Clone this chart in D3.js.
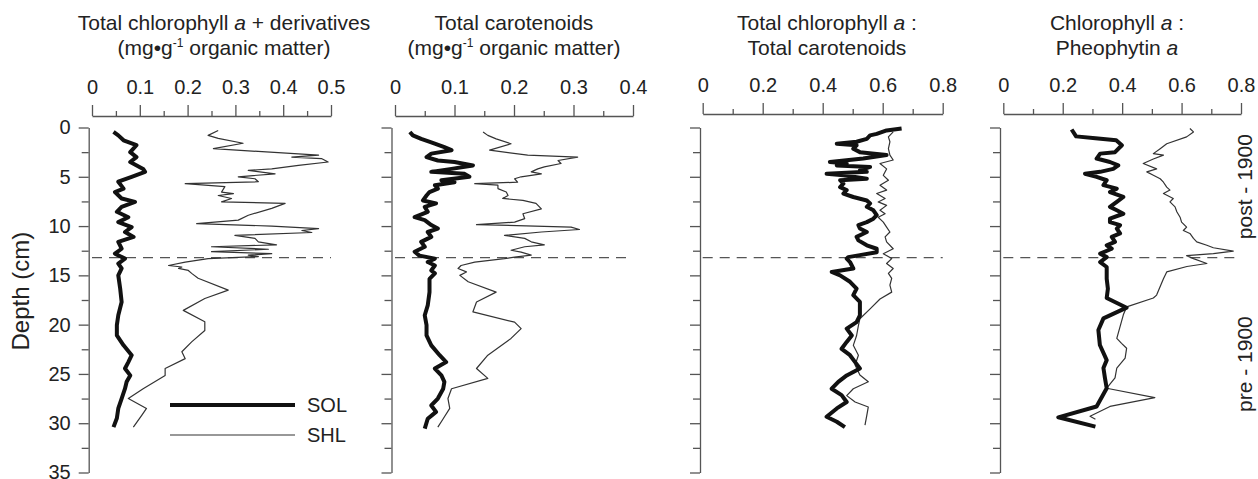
<!DOCTYPE html>
<html>
<head>
<meta charset="utf-8">
<script src="https://cdn.jsdelivr.net/npm/d3@7"></script>
<style>
  body { margin: 0; background: #fff; }
  svg { display: block; font-family: "Liberation Sans", Arial, Helvetica, sans-serif; }
</style>
</head>
<body>
<svg id="chart" width="1258" height="479"></svg>
<script>
// depth (cm), value
const chlDerivSOL = [[0.45,0.045],[0.8,0.055],[1.3,0.066],[1.8,0.093],[2.5,0.08],[3.0,0.093],[3.5,0.08],[4.2,0.107],[4.5,0.111],[5.0,0.083],[5.5,0.055],[6.2,0.066],[6.55,0.048],[7.2,0.062],[7.55,0.09],[8.05,0.062],[8.55,0.052],[9.1,0.076],[9.6,0.055],[10.1,0.083],[10.6,0.069],[11.1,0.087],[11.6,0.055],[12.3,0.062],[12.8,0.048],[13.3,0.069],[13.8,0.055],[14.3,0.062],[15.0,0.055],[16.35,0.059],[17.7,0.062],[19.05,0.055],[20.05,0.052],[21.1,0.052],[22.1,0.066],[23.1,0.083],[23.8,0.076],[24.45,0.069],[25.15,0.08],[25.8,0.0725],[26.5,0.069],[27.5,0.062],[28.5,0.055],[29.5,0.052],[30.4,0.045]];
const chlDerivSHL = [[0.3,0.264],[0.8,0.243],[1.1,0.264],[1.6,0.316],[2.15,0.254],[2.8,0.474],[3.0,0.418],[3.15,0.48],[3.5,0.494],[3.85,0.432],[4.2,0.376],[4.35,0.327],[4.7,0.383],[5.0,0.306],[5.2,0.341],[5.5,0.348],[5.7,0.195],[6.0,0.278],[6.55,0.271],[6.7,0.296],[6.9,0.264],[7.2,0.292],[7.55,0.271],[7.7,0.404],[8.2,0.376],[8.9,0.327],[9.4,0.306],[9.75,0.219],[10.0,0.376],[10.25,0.474],[10.45,0.439],[10.65,0.46],[10.95,0.299],[11.25,0.341],[11.6,0.348],[11.9,0.386],[12.1,0.25],[12.35,0.369],[12.6,0.25],[12.8,0.376],[12.95,0.327],[13.1,0.348],[13.3,0.243],[13.65,0.195],[14.0,0.16],[14.15,0.188],[14.3,0.181],[14.5,0.2015],[14.8,0.2085],[15.3,0.222],[16.5,0.285],[17.35,0.236],[18.55,0.191],[19.7,0.236],[20.6,0.236],[21.75,0.2085],[22.75,0.188],[23.45,0.195],[24.45,0.153],[25.15,0.153],[26.5,0.107],[27.5,0.076],[28.5,0.114],[29.2,0.104],[30.4,0.0865]];

const carotSOL = [[0.45,0.025],[0.8,0.030],[1.15,0.044],[1.5,0.061],[2.0,0.083],[2.3,0.095],[2.65,0.061],[3.0,0.053],[3.35,0.072],[3.5,0.1],[3.85,0.131],[4.2,0.095],[4.5,0.061],[4.7,0.117],[5.0,0.125],[5.35,0.078],[5.55,0.1],[5.85,0.067],[6.2,0.072],[6.55,0.058],[6.9,0.053],[7.4,0.047],[7.7,0.069],[8.05,0.05],[8.55,0.055],[9.1,0.033],[9.4,0.05],[9.9,0.061],[10.25,0.072],[10.6,0.055],[11.1,0.061],[11.6,0.044],[12.1,0.05],[12.6,0.033],[13.0,0.041],[13.3,0.067],[13.65,0.055],[14.0,0.067],[14.5,0.061],[14.8,0.067],[15.35,0.058],[16.7,0.058],[18.05,0.055],[19.05,0.05],[20.05,0.053],[21.1,0.053],[22.1,0.061],[23.1,0.075],[23.8,0.086],[24.45,0.067],[25.15,0.078],[25.8,0.083],[26.5,0.081],[27.5,0.072],[28.2,0.061],[28.85,0.069],[29.55,0.055],[30.55,0.05]];
const carotSHL = [[0.45,0.148],[0.8,0.156],[1.15,0.17],[1.65,0.195],[2.3,0.159],[2.8,0.223],[3.0,0.307],[3.35,0.274],[3.65,0.279],[4.0,0.251],[4.2,0.24],[4.5,0.229],[4.7,0.246],[5.0,0.212],[5.2,0.201],[5.55,0.206],[5.7,0.134],[5.85,0.173],[6.2,0.173],[6.55,0.187],[6.9,0.19],[7.2,0.181],[7.4,0.215],[7.7,0.237],[8.25,0.246],[8.75,0.215],[9.25,0.218],[9.6,0.201],[9.85,0.137],[10.1,0.296],[10.35,0.31],[10.6,0.246],[10.95,0.184],[11.25,0.218],[11.6,0.229],[11.9,0.251],[12.1,0.218],[12.45,0.195],[12.65,0.212],[12.95,0.229],[13.15,0.201],[13.3,0.184],[13.65,0.134],[14.0,0.111],[14.3,0.106],[14.65,0.12],[15.0,0.109],[15.65,0.123],[16.7,0.17],[17.7,0.137],[18.7,0.131],[19.75,0.201],[20.4,0.212],[21.4,0.195],[23.1,0.156],[24.45,0.137],[25.45,0.156],[26.5,0.095],[27.5,0.089],[28.5,0.092],[29.55,0.081],[30.4,0.072]];

const chlCarotSOL = [[0.1,0.663],[0.3,0.613],[0.65,0.58],[0.8,0.558],[1.15,0.547],[1.45,0.513],[1.65,0.447],[1.8,0.513],[2.15,0.502],[2.5,0.524],[2.8,0.613],[3.15,0.535],[3.5,0.424],[3.65,0.48],[3.85,0.447],[4.0,0.558],[4.35,0.524],[4.5,0.547],[4.7,0.413],[4.85,0.469],[5.2,0.547],[5.35,0.458],[5.7,0.469],[6.05,0.458],[6.35,0.48],[6.7,0.469],[7.05,0.502],[7.4,0.547],[7.7,0.558],[8.05,0.547],[8.4,0.569],[8.9,0.58],[9.25,0.569],[9.6,0.547],[9.9,0.519],[10.25,0.524],[10.6,0.547],[11.1,0.513],[11.45,0.519],[11.95,0.547],[12.3,0.58],[12.65,0.58],[12.95,0.524],[13.15,0.485],[13.3,0.48],[13.65,0.491],[14.0,0.497],[14.3,0.502],[14.65,0.43],[15.0,0.458],[15.65,0.491],[16.35,0.513],[17.0,0.502],[17.7,0.524],[18.35,0.524],[19.05,0.524],[19.75,0.513],[20.4,0.48],[21.1,0.497],[21.75,0.48],[22.45,0.463],[23.1,0.491],[23.8,0.508],[24.45,0.524],[25.15,0.48],[25.8,0.452],[26.5,0.43],[27.15,0.463],[27.85,0.48],[28.5,0.447],[29.35,0.413],[29.85,0.447],[30.4,0.474]];
const chlCarotSHL = [[0.45,0.635],[0.95,0.619],[1.45,0.624],[2.15,0.619],[2.8,0.624],[3.3,0.635],[3.65,0.591],[4.2,0.613],[4.85,0.602],[5.35,0.619],[5.85,0.591],[6.35,0.613],[6.7,0.58],[7.2,0.608],[7.55,0.585],[7.9,0.613],[8.4,0.591],[8.75,0.608],[9.1,0.585],[9.6,0.602],[10.1,0.613],[10.6,0.624],[11.1,0.608],[11.6,0.613],[12.3,0.635],[12.8,0.602],[13.3,0.63],[13.8,0.613],[14.3,0.635],[14.8,0.619],[15.3,0.63],[16.0,0.624],[16.7,0.63],[17.4,0.591],[18.4,0.558],[19.4,0.524],[20.1,0.519],[21.1,0.513],[22.1,0.502],[23.1,0.519],[24.1,0.508],[25.1,0.524],[25.8,0.552],[26.5,0.502],[27.2,0.48],[27.85,0.508],[28.35,0.552],[29.2,0.547],[30.2,0.541]];

const chlPheoSOL = [[0.2,0.23],[0.9,0.245],[1.1,0.31],[1.3,0.38],[1.8,0.399],[2.5,0.376],[2.65,0.326],[3.15,0.314],[3.5,0.359],[3.85,0.387],[4.2,0.37],[4.5,0.326],[4.7,0.275],[5.0,0.314],[5.35,0.348],[5.85,0.337],[6.2,0.382],[6.55,0.359],[7.05,0.404],[7.55,0.382],[8.05,0.359],[8.4,0.382],[8.75,0.404],[9.25,0.359],[9.6,0.359],[9.9,0.393],[10.25,0.382],[10.75,0.393],[11.1,0.365],[11.6,0.376],[11.95,0.348],[12.3,0.365],[12.8,0.326],[13.15,0.348],[13.65,0.326],[14.15,0.348],[14.65,0.348],[15.35,0.348],[16.35,0.352],[17.3,0.348],[18.28,0.415],[19.36,0.337],[20.54,0.32],[22.06,0.325],[23.6,0.348],[24.4,0.337],[25.4,0.342],[26.45,0.348],[28.3,0.314],[29.4,0.185],[30.35,0.31]];
const chlPheoSHL = [[0.1,0.628],[0.45,0.64],[0.95,0.617],[1.65,0.55],[2.15,0.528],[2.65,0.505],[2.8,0.539],[3.2,0.505],[3.65,0.471],[4.2,0.516],[4.5,0.483],[4.85,0.505],[5.2,0.528],[5.55,0.539],[6.05,0.55],[6.35,0.561],[6.7,0.539],[7.2,0.572],[7.55,0.561],[8.05,0.578],[8.55,0.584],[9.1,0.595],[9.6,0.6],[10.1,0.617],[10.45,0.606],[10.75,0.628],[11.25,0.64],[11.6,0.651],[11.95,0.685],[12.2,0.707],[12.55,0.774],[12.8,0.707],[13.0,0.617],[13.3,0.64],[13.8,0.685],[14.1,0.618],[14.65,0.55],[15.35,0.539],[17.0,0.516],[17.3,0.505],[18.2,0.415],[19.0,0.404],[21.4,0.382],[21.9,0.398],[22.4,0.415],[23.4,0.41],[24.4,0.382],[25.4,0.376],[26.45,0.348],[27.4,0.51],[28.3,0.359],[29.3,0.292],[29.6,0.31]];

const depthMajor = [0, 5, 10, 15, 20, 25, 30, 35];
const depthMinor = [2.5, 7.5, 12.5, 17.5, 22.5, 27.5, 32.5];
const boundaryDepth = 13.2;
const seriesNames = ["SOL", "SHL"];
const periodLabels = ["post - 1900", "pre - 1900"];
const periodDepths = [6, 24];

const panels = [
  { sol: chlDerivSOL, shl: chlDerivSHL, max: 0.5, major: [0, 0.1, 0.2, 0.3, 0.4, 0.5], minor: [0.05, 0.15, 0.25, 0.35, 0.45],
    x0: 92, x1: 331, axisY: 116, yAxisX: 88.7, titleX: 224,
    title: [[["Total chlorophyll ", 0], ["a", 1], [" + derivatives", 0]], [["(mg\u2022g", 0], ["-1", 2], [" organic matter)", 0]]] },
  { sol: carotSOL, shl: carotSHL, max: 0.4, major: [0, 0.1, 0.2, 0.3, 0.4], minor: [0.05, 0.15, 0.25, 0.35],
    x0: 395, x1: 633, axisY: 116, yAxisX: 391.5, titleX: 514,
    title: [[["Total carotenoids", 0]], [["(mg\u2022g", 0], ["-1", 2], [" organic matter)", 0]]] },
  { sol: chlCarotSOL, shl: chlCarotSHL, max: 0.8, major: [0, 0.2, 0.4, 0.6, 0.8], minor: [0.1, 0.3, 0.5, 0.7],
    x0: 702.7, x1: 942.7, axisY: 114, yAxisX: 700, titleX: 827,
    title: [[["Total chlorophyll ", 0], ["a", 1], [" :", 0]], [["Total carotenoids", 0]]] },
  { sol: chlPheoSOL, shl: chlPheoSHL, max: 0.8, major: [0, 0.2, 0.4, 0.6, 0.8], minor: [0.1, 0.3, 0.5, 0.7],
    x0: 1003.3, x1: 1241, axisY: 114, yAxisX: 1000, titleX: 1117,
    title: [[["Chlorophyll ", 0], ["a", 1], [" :", 0]], [["Pheophytin ", 0], ["a", 1]]] }
];

const svg = d3.select("#chart");
svg.append("rect").attr("width", 1258).attr("height", 479).attr("fill", "#fff");

const y = d3.scaleLinear().domain([0, 35]).range([127.5, 472.5]);
const fmt = (d) => String(+d.toFixed(2));

function styleAxis(g) {
  g.select(".domain").attr("stroke", "#555").attr("stroke-width", 1.3);
  g.selectAll(".tick line").attr("stroke", "#555").attr("stroke-width", 1.3);
  g.selectAll("text").attr("fill", "#222").attr("font-size", 20)
    .attr("font-family", "'Liberation Sans', Arial, Helvetica, sans-serif");
}

panels.forEach((p, i) => {
  const x = d3.scaleLinear().domain([0, p.max]).range([p.x0, p.x1]);

  // title
  p.title.forEach((line, li) => {
    const t = svg.append("text")
      .attr("x", p.titleX).attr("y", 30 + li * 25)
      .attr("text-anchor", "middle").attr("font-size", 21).attr("fill", "#222");
    line.forEach(([s, kind]) => {
      const ts = t.append("tspan").text(s);
      if (kind === 1) ts.attr("font-style", "italic");
      if (kind === 2) ts.attr("font-size", 12).attr("dy", -8);
      if (kind === 0 && li === 1 && s.startsWith(" organic")) ts.attr("dy", 8);
    });
  });

  // x axis (top)
  const gx = svg.append("g").attr("transform", `translate(0,${p.axisY})`);
  gx.call(d3.axisTop(x).tickValues(p.major).tickSize(11).tickSizeOuter(0).tickPadding(11).tickFormat(fmt));
  styleAxis(gx);
  const gxm = svg.append("g").attr("transform", `translate(0,${p.axisY})`);
  gxm.call(d3.axisTop(x).tickValues(p.minor).tickSize(5).tickFormat(""));
  gxm.select(".domain").remove();
  styleAxis(gxm);

  // y axis (left)
  const gy = svg.append("g").attr("transform", `translate(${p.yAxisX},0)`);
  gy.call(d3.axisLeft(y).tickValues(depthMajor).tickSize(10).tickSizeOuter(0).tickPadding(8)
    .tickFormat(i === 0 ? d3.format("d") : ""));
  styleAxis(gy);
  const gym = svg.append("g").attr("transform", `translate(${p.yAxisX},0)`);
  gym.call(d3.axisLeft(y).tickValues(depthMinor).tickSize(7).tickFormat(""));
  gym.select(".domain").remove();
  styleAxis(gym);

  // pre/post 1900 boundary
  svg.append("line")
    .attr("x1", x(0)).attr("x2", x(p.max))
    .attr("y1", y(boundaryDepth)).attr("y2", y(boundaryDepth))
    .attr("stroke", "#555").attr("stroke-width", 1.3).attr("stroke-dasharray", "10,7");

  const line = d3.line().x((d) => x(d[1])).y((d) => y(d[0]));
  svg.append("path").datum(p.shl).attr("d", line)
    .attr("fill", "none").attr("stroke", "#333").attr("stroke-width", 1.2).attr("stroke-linejoin", "round");
  svg.append("path").datum(p.sol).attr("d", line)
    .attr("fill", "none").attr("stroke", "#111").attr("stroke-width", 4).attr("stroke-linejoin", "round");
});

// depth label
svg.append("text")
  .attr("transform", `translate(29,${y(16.6)}) rotate(-90)`)
  .attr("text-anchor", "middle").attr("font-size", 24).attr("fill", "#222")
  .text("Depth (cm)");

// period labels on the right
periodLabels.forEach((s, i) => {
  svg.append("text")
    .attr("transform", `translate(1252,${y(periodDepths[i])}) rotate(-90)`)
    .attr("text-anchor", "middle").attr("font-size", 21).attr("fill", "#222")
    .text(s);
});

// legend
const legend = svg.append("g");
seriesNames.forEach((s, i) => {
  const ly = 405 + i * 30;
  legend.append("line").attr("x1", 170).attr("x2", 295).attr("y1", ly).attr("y2", ly)
    .attr("stroke", i === 0 ? "#111" : "#333").attr("stroke-width", i === 0 ? 4 : 1.2);
  legend.append("text").attr("x", 307).attr("y", ly + 7).attr("font-size", 20).attr("fill", "#222").text(s);
});
</script>
</body>
</html>
